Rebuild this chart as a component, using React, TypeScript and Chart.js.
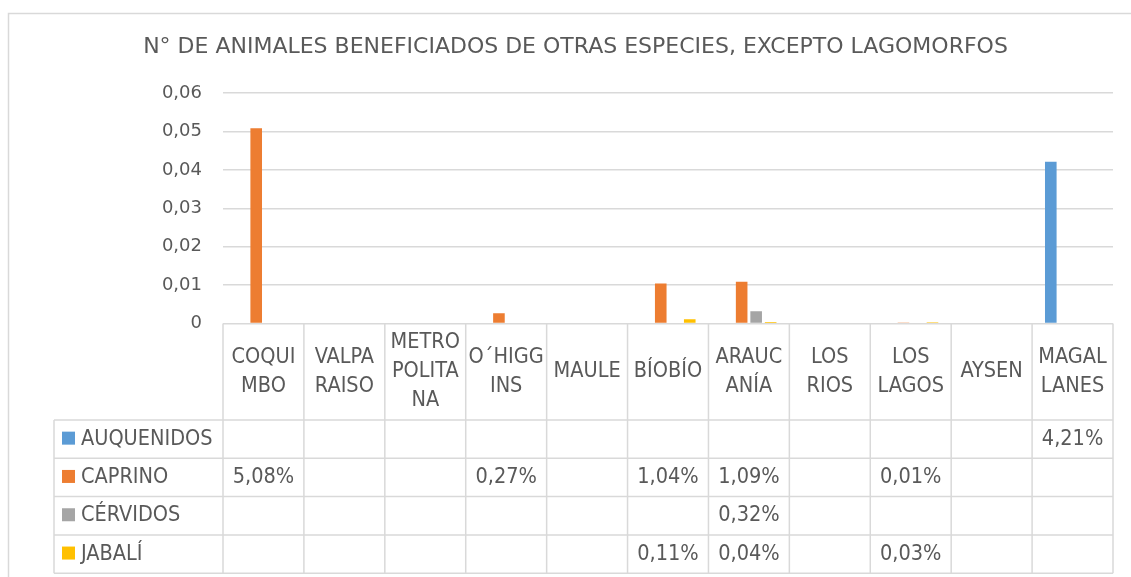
import React, { useEffect, useRef } from "react";
import { Chart, registerables } from "chart.js";

Chart.register(...registerables);

const TITLE = "N° DE ANIMALES BENEFICIADOS DE OTRAS ESPECIES, EXCEPTO LAGOMORFOS";
const CATEGORY_LINES: string[][] = [
  ["COQUI", "MBO"],
  ["VALPA", "RAISO"],
  ["METRO", "POLITA", "NA"],
  ["O´HIGG", "INS"],
  ["MAULE"],
  ["BÍOBÍO"],
  ["ARAUC", "ANÍA"],
  ["LOS", "RIOS"],
  ["LOS", "LAGOS"],
  ["AYSEN"],
  ["MAGAL", "LANES"],
];
const SERIES_NAMES = ["AUQUENIDOS", "CAPRINO", "CÉRVIDOS", "JABALÍ"];
const AUQUENIDOS = [null, null, null, null, null, null, null, null, null, null, 0.0421];
const CAPRINO = [0.0508, null, null, 0.0027, null, 0.0104, 0.0109, null, 0.0001, null, null];
const CERVIDOS = [null, null, null, null, null, null, 0.0032, null, null, null, null];
const JABALI = [null, null, null, null, null, 0.0011, 0.0004, null, 0.0003, null, null];
const SERIES_COLORS = ["#5B9BD5", "#ED7D31", "#A5A5A5", "#FFC000"];
const Y_MIN = 0;
const Y_MAX = 0.06;
const Y_STEP = 0.01;

const TEXT = "#595959";
const LINE = "#d9d9d9";
const LABEL_FONT = '21.5px "DejaVu Sans Condensed", "DejaVu Sans", sans-serif';

const fmtPct = (v: number) => (v * 100).toFixed(2).replace(".", ",") + "%";
const fmtTick = (v: number) => (v === 0 ? "0" : v.toFixed(2).replace(".", ","));

const tablePlugin = {
  id: "excelTable",
  afterDraw(chart: any) {
    const ctx: CanvasRenderingContext2D = chart.ctx;
    const xs = chart.scales.x;
    const area = chart.chartArea;
    const n = chart.data.labels.length;
    const bounds: number[] = [];
    for (let i = 0; i <= n; i++) {
      if (i === 0) bounds.push(area.left);
      else if (i === n) bounds.push(area.right);
      else bounds.push((xs.getPixelForValue(i - 1) + xs.getPixelForValue(i)) / 2);
    }
    const headerTop = area.bottom;
    const headerBottom = 420;
    const rowH = 38.3;
    const nRows = chart.data.datasets.length;
    const tableLeft = 54;
    const tableBottom = headerBottom + rowH * nRows;

    ctx.save();
    ctx.strokeStyle = LINE;
    ctx.lineWidth = 1.5;
    // outer chart border (top & left visible)
    ctx.beginPath();
    ctx.moveTo(8.5, chart.height);
    ctx.lineTo(8.5, 13.5);
    ctx.lineTo(chart.width, 13.5);
    ctx.stroke();

    // vertical lines
    ctx.beginPath();
    bounds.forEach((b) => {
      ctx.moveTo(b, headerTop);
      ctx.lineTo(b, tableBottom);
    });
    ctx.moveTo(tableLeft, headerBottom);
    ctx.lineTo(tableLeft, tableBottom);
    for (let r = 0; r <= nRows; r++) {
      const y = headerBottom + r * rowH;
      ctx.moveTo(tableLeft, y);
      ctx.lineTo(area.right, y);
    }
    ctx.stroke();

    // title
    ctx.fillStyle = TEXT;
    ctx.textBaseline = "middle";
    ctx.textAlign = "center";
    ctx.font = '22px "DejaVu Sans", sans-serif';
    ctx.fillText(TITLE, 575.5, 47);

    // category labels
    ctx.font = LABEL_FONT;
    const lh = 29;
    const hc = (headerTop + headerBottom) / 2;
    chart.data.labels.forEach((lines: string[], i: number) => {
      const cx = (bounds[i] + bounds[i + 1]) / 2;
      const y0 = hc - ((lines.length - 1) * lh) / 2;
      lines.forEach((t, k) => ctx.fillText(t, cx, y0 + k * lh));
    });

    // rows
    chart.data.datasets.forEach((ds: any, r: number) => {
      const cy = headerBottom + r * rowH + rowH / 2;
      ctx.fillStyle = ds.backgroundColor;
      ctx.fillRect(62, cy - 7.5, 13, 13);
      ctx.fillStyle = TEXT;
      ctx.textAlign = "left";
      ctx.fillText(ds.label, 81, cy);
      ctx.textAlign = "center";
      ds.data.forEach((v: number | null, i: number) => {
        if (v === null || v === undefined) return;
        ctx.fillText(fmtPct(v), (bounds[i] + bounds[i + 1]) / 2, cy);
      });
    });
    ctx.restore();
  },
};

export default function App() {
  const ref = useRef<HTMLCanvasElement | null>(null);
  useEffect(() => {
    if (!ref.current) return;
    const seriesData = [AUQUENIDOS, CAPRINO, CERVIDOS, JABALI];
    const chart = new Chart(ref.current, {
      type: "bar",
      data: {
        labels: CATEGORY_LINES as any,
        datasets: SERIES_NAMES.map((name, i) => ({
          label: name,
          data: seriesData[i] as any,
          backgroundColor: SERIES_COLORS[i],
          borderWidth: 0,
          categoryPercentage: 0.717,
          barPercentage: 0.8,
        })),
      },
      options: {
        animation: false,
        responsive: false,
        devicePixelRatio: 1,
        layout: { padding: { left: 0, right: 18, top: 93, bottom: 253.5 } },
        plugins: {
          legend: { display: false },
          title: { display: false },
          tooltip: { enabled: false },
        },
        scales: {
          x: {
            grid: { display: false },
            border: { display: false },
            ticks: { display: false },
            afterFit: (s: any) => {
              s.height = 0;
            },
          },
          y: {
            min: Y_MIN,
            max: Y_MAX,
            grid: { color: LINE, lineWidth: 1.5, drawTicks: false },
            border: { display: false },
            ticks: {
              stepSize: Y_STEP,
              padding: 21,
              color: TEXT,
              font: { family: "DejaVu Sans", size: 18 },
              callback: (v: any) => fmtTick(Number(v)),
            },
            afterFit: (s: any) => {
              s.width = 223;
            },
          },
        },
      },
      plugins: [tablePlugin],
    });
    return () => chart.destroy();
  }, []);
  return (
    <div style={{ position: "fixed", left: 0, top: 0, width: 1131, height: 577, background: "#fff" }}>
      <canvas ref={ref} width={1131} height={577} style={{ display: "block", width: 1131, height: 577 }} />
    </div>
  );
}
